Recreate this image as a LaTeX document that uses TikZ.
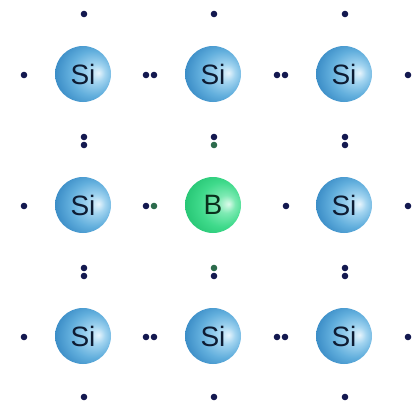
\documentclass[tikz,border=0pt]{standalone}
\usepackage{fontspec}
\setmainfont{Liberation Sans}

% atom balls, lit from the right
\definecolor{siA}{HTML}{E6F4FC}
\definecolor{siB}{HTML}{A2D4F0}
\definecolor{siC}{HTML}{62AFDD}
\definecolor{siD}{HTML}{3A8CC6}
\definecolor{siE}{HTML}{2474AE}
\definecolor{bA}{HTML}{DDFBEB}
\definecolor{bB}{HTML}{7DEAB3}
\definecolor{bC}{HTML}{3FDA8B}
\definecolor{bD}{HTML}{27C675}
\definecolor{bE}{HTML}{1DB567}
\definecolor{elec}{HTML}{141950}
\definecolor{belec}{HTML}{2C6B4C}
\definecolor{sitext}{HTML}{0E1C33}
\definecolor{btext}{HTML}{0A301C}

\pgfdeclareradialshading{siball}{\pgfpoint{14bp}{1bp}}{%
  color(0bp)=(siA); color(8bp)=(siB); color(20bp)=(siC);
  color(31bp)=(siD); color(39bp)=(siE); color(50bp)=(siE)}
\pgfdeclareradialshading{bball}{\pgfpoint{14bp}{1bp}}{%
  color(0bp)=(bA); color(8bp)=(bB); color(20bp)=(bC);
  color(31bp)=(bD); color(39bp)=(bE); color(50bp)=(bE)}

\tikzset{
  atom/.style={circle, inner sep=0pt, minimum size=56pt, shade,
    font=\fontsize{28}{28}\selectfont},
  siatom/.style={atom, shading=siball, text=sitext},
  batom/.style={atom, shading=bball, text=btext},
  electron/.style={circle, inner sep=0pt, minimum size=6.6pt, fill=elec},
  belectron/.style={electron, fill=belec},
}

\begin{document}
\begin{tikzpicture}[x=1pt, y=-1pt]
  \useasboundingbox (0,0) rectangle (418,407);

  % lattice atoms
  \node[siatom] (a11) at (83,74)  {Si};
  \node[siatom] (a12) at (213,74) {Si};
  \node[siatom] (a13) at (344,74) {Si};
  \node[siatom] (a21) at (83,205) {Si};
  \node[batom]  (a22) at (213,205) {B};
  \node[siatom] (a23) at (344,205) {Si};
  \node[siatom] (a31) at (83,336) {Si};
  \node[siatom] (a32) at (213,336) {Si};
  \node[siatom] (a33) at (344,336) {Si};

  % outer single electrons: top and bottom
  \node[electron] (t1) at (84,14)  {};
  \node[electron] (t2) at (214,14) {};
  \node[electron] (t3) at (345,14) {};
  \node[electron] (b1) at (84,397)  {};
  \node[electron] (b2) at (214,397) {};
  \node[electron] (b3) at (345,397) {};
  % outer single electrons: left and right
  \node[electron] (l1) at (24,75)  {};
  \node[electron] (l2) at (24,206) {};
  \node[electron] (l3) at (24,337) {};
  \node[electron] (r1) at (408,75)  {};
  \node[electron] (r2) at (408,206) {};
  \node[electron] (r3) at (408,337) {};

  % horizontal bonds, row 1
  \node[electron] (h11a) at (146,75) {};
  \node[electron] (h11b) at (154,75) {};
  \node[electron] (h12a) at (277,75) {};
  \node[electron] (h12b) at (285,75) {};
  % horizontal bonds, row 2 (boron row, one bond short)
  \node[electron]  (h21a) at (146,206) {};
  \node[belectron] (h21b) at (154,206) {};
  \node[electron]  (h22b) at (286,206) {};
  % horizontal bonds, row 3
  \node[electron] (h31a) at (146,337) {};
  \node[electron] (h31b) at (154,337) {};
  \node[electron] (h32a) at (277,337) {};
  \node[electron] (h32b) at (285,337) {};

  % vertical bonds between rows 1 and 2
  \node[electron]  (v11a) at (84,137)  {};
  \node[electron]  (v11b) at (84,145)  {};
  \node[electron]  (v12a) at (214,137) {};
  \node[belectron] (v12b) at (214,145) {};
  \node[electron]  (v13a) at (345,137) {};
  \node[electron]  (v13b) at (345,145) {};
  % vertical bonds between rows 2 and 3
  \node[electron]  (v21a) at (84,268)  {};
  \node[electron]  (v21b) at (84,276)  {};
  \node[belectron] (v22a) at (214,268) {};
  \node[electron]  (v22b) at (214,276) {};
  \node[electron]  (v23a) at (345,268) {};
  \node[electron]  (v23b) at (345,276) {};
\end{tikzpicture}
\end{document}
